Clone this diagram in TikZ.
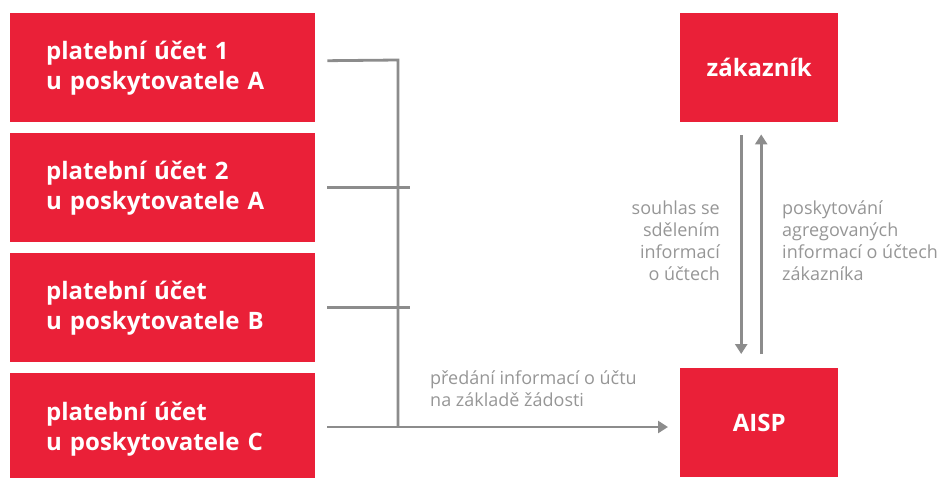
\documentclass[tikz,border=0pt]{standalone}
\usepackage{fontspec}
\setmainfont{Open Sans}
\usetikzlibrary{arrows.meta}
\usetikzlibrary{positioning}
\definecolor{boxred}{RGB}{234,32,56}
\definecolor{linegray}{RGB}{140,140,140}
\definecolor{textgray}{RGB}{150,150,150}
\tikzstyle{account_box} = [
    rectangle,
    white,
    font=\fontsize{24}{30}\selectfont\bfseries,
    fill=boxred,
    anchor=north west,
    align=left,
    inner xsep=36pt, % text starts 36px inside the box
    inner ysep=0pt,
    text width=233pt,
    minimum height=109pt
]
\tikzstyle{party_box} = [
    rectangle,
    white,
    font=\fontsize{24}{30}\selectfont\bfseries,
    fill=boxred,
    anchor=north west,
    align=center,
    inner sep=0pt,
    minimum width=158pt,
    minimum height=109pt
]
\tikzstyle{note} = [
    textgray,
    font=\fontsize{18}{22}\selectfont,
    inner sep=0pt
]
\tikzstyle{link} = [
    draw=linegray,
    line width=2.8pt
]
\tikzstyle{flow} = [
    link,
    -{Triangle[width=12pt,length=10pt]}
]

\begin{document}
\begin{tikzpicture}[x=1pt, y=-1pt]
\useasboundingbox (0,0) rectangle (941,477);
% accounts
\node [account_box] (acc1) at (10,13)  {platební účet 1\\u poskytovatele A};
\node [account_box] (acc2) at (10,133) {platební účet 2\\u poskytovatele A};
\node [account_box] (acc3) at (10,253) {platební účet\\u poskytovatele B};
\node [account_box, minimum height=112pt] (acc4) at (10,373) {platební účet\\u poskytovatele C};
% parties
\node [party_box] (customer) at (680,13)  {zákazník};
\node [party_box] (aisp)     at (680,368) {AISP};
% collecting bus
\coordinate (bus_top) at (398,60);
\coordinate (bus_bottom) at (398,427);
\draw [link] ([xshift=12pt,yshift=7pt]acc1.east) -- (bus_top) -- (bus_bottom);
\draw [link] ([xshift=12pt]acc2.east) -- ([xshift=12pt]acc2.east -| bus_top);
\draw [link] ([xshift=12pt]acc3.east) -- ([xshift=12pt]acc3.east -| bus_top);
\draw [flow] ([xshift=12pt]acc4.east |- bus_bottom) -- ([xshift=-12pt]aisp.west |- bus_bottom);
\node [note, anchor=north west, align=left] (request) at (430,371)
    {předání informací o účtu\\na základě žádosti};
% consent and data
\draw [flow] ([xshift=-18pt,yshift=-13pt]customer.south) -- ([xshift=-18pt,yshift=14pt]aisp.north);
\draw [flow] ([xshift=2pt,yshift=14pt]aisp.north) -- ([xshift=2pt,yshift=-12pt]customer.south);
\node [note, anchor=north east, align=right] (consent) at (720,201)
    {souhlas se\\sdělením\\informací\\o účtech};
\node [note, anchor=north west, align=left] (provide) at (782,201)
    {poskytování\\agregovaných\\informací o účtech\\zákazníka};
\end{tikzpicture}
\end{document}
